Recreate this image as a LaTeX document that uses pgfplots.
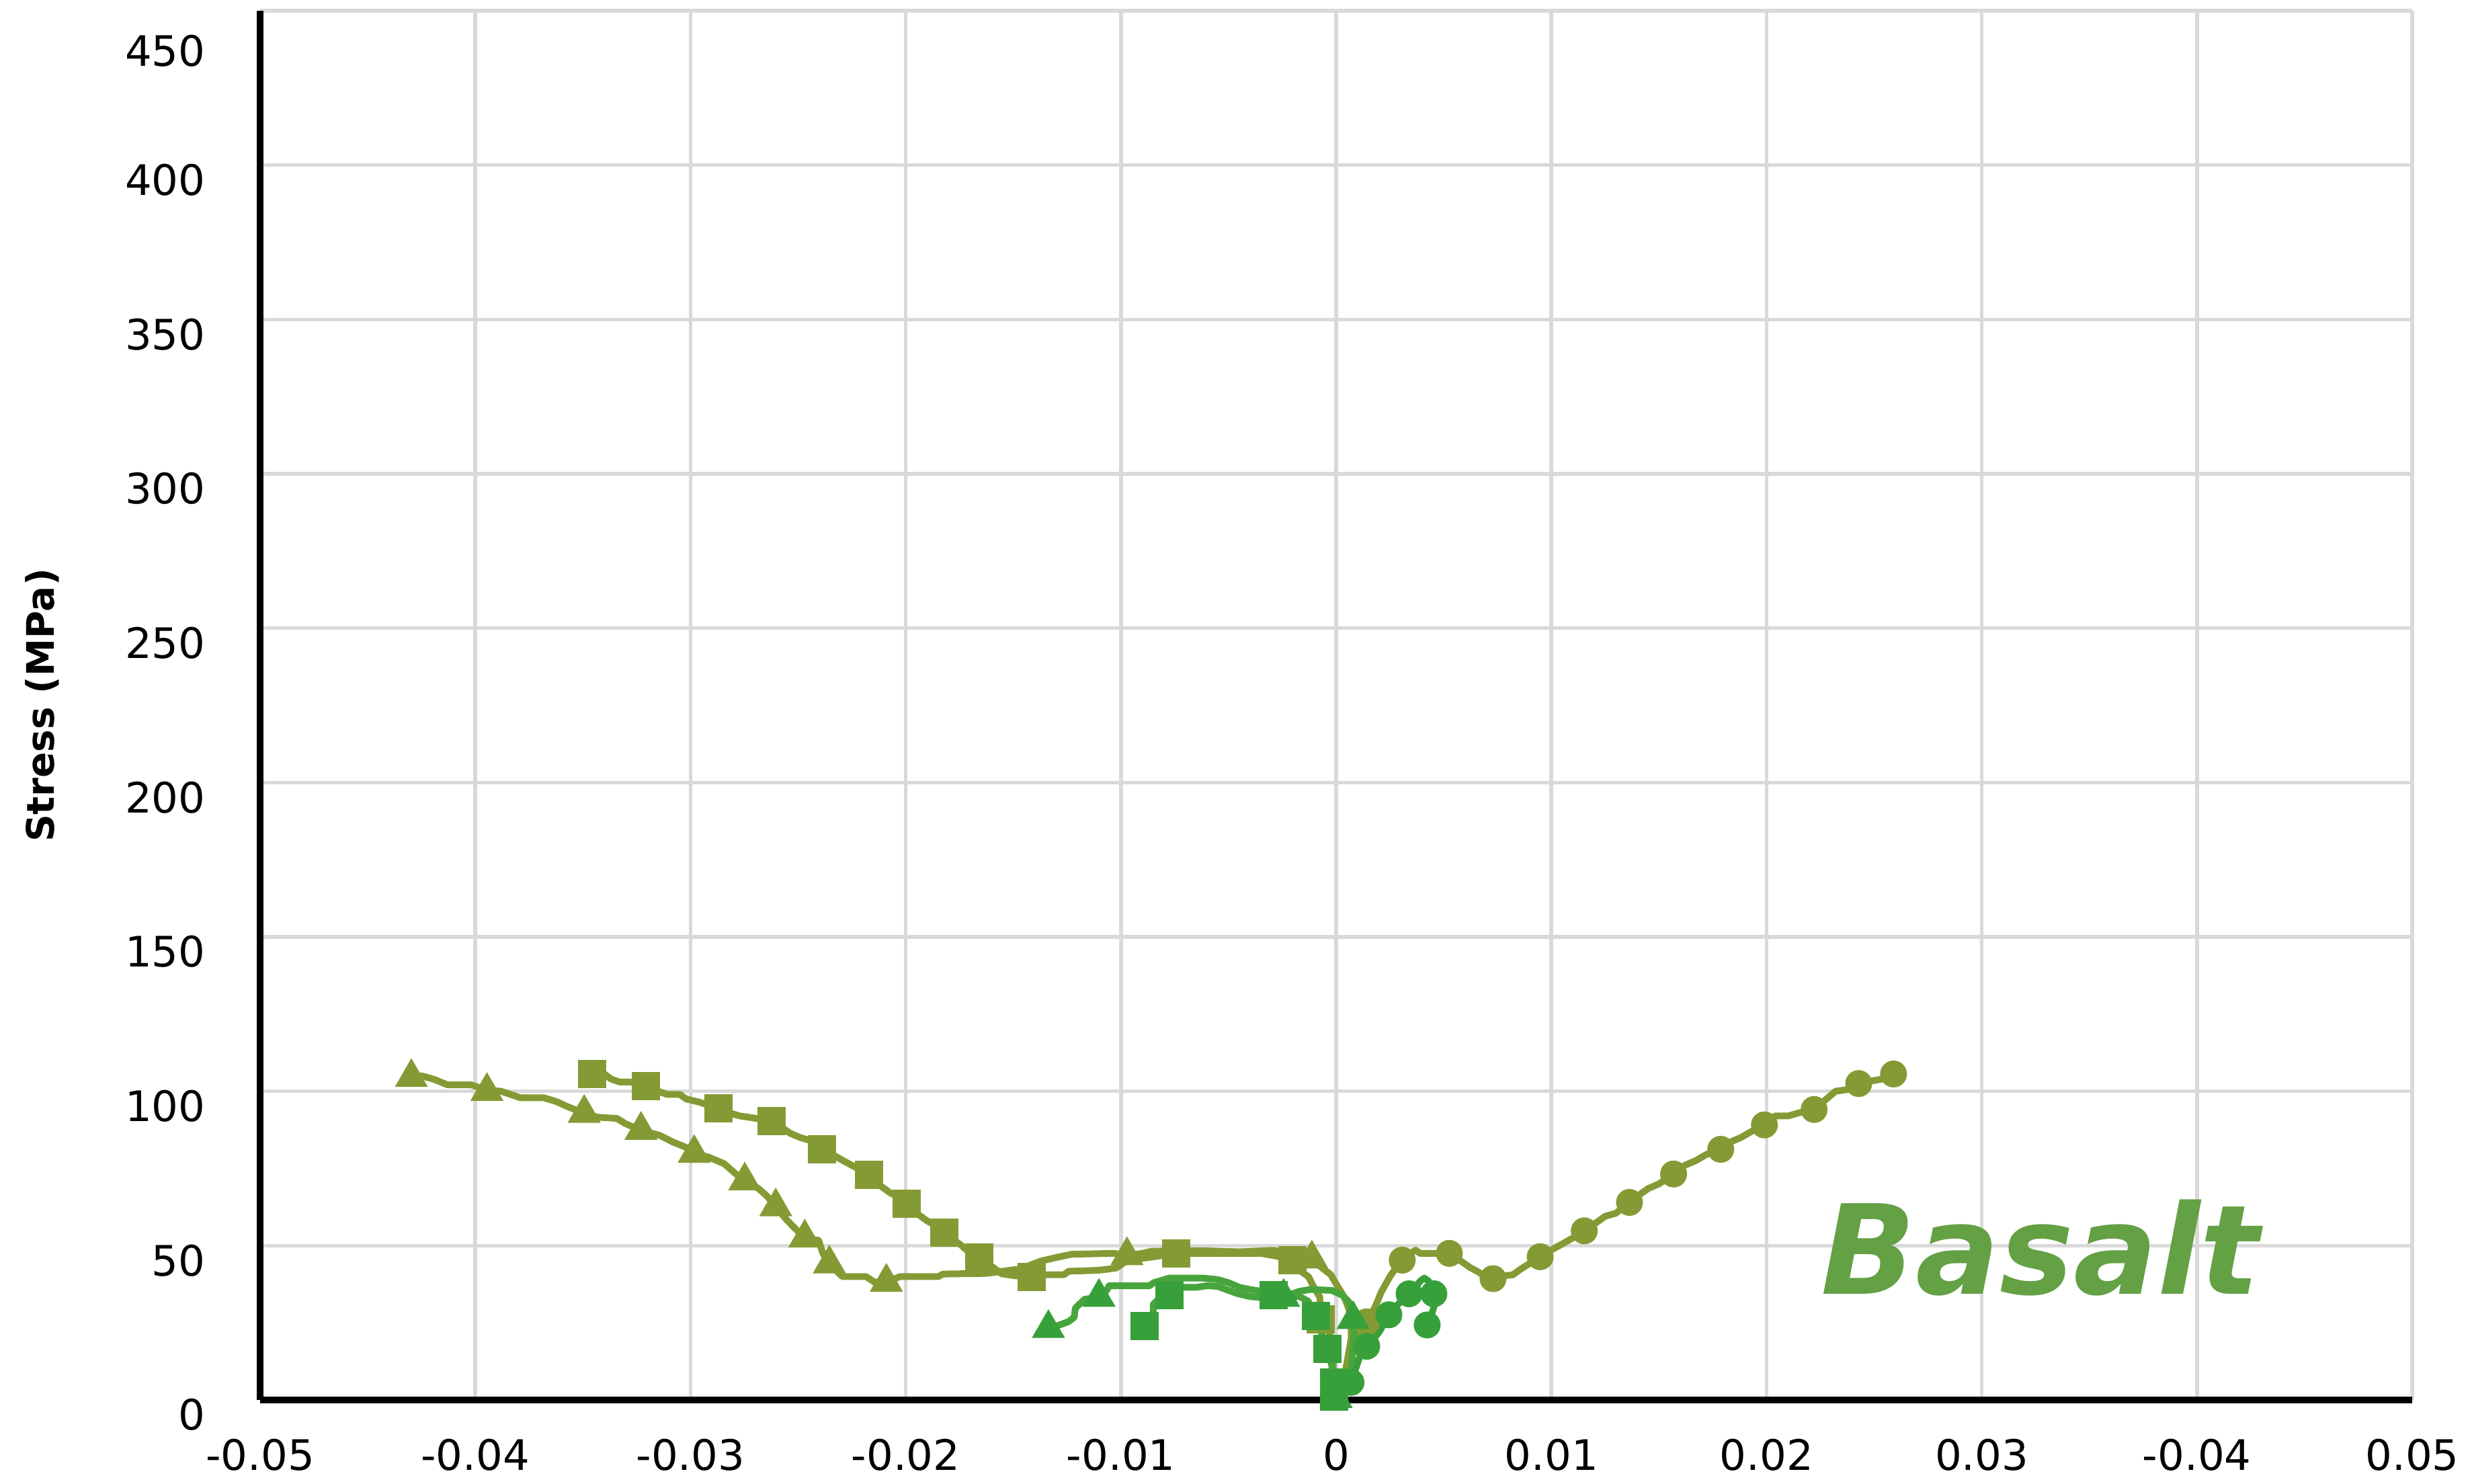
\documentclass[border=0pt]{standalone}
\usepackage{pgfplots}
\pgfplotsset{compat=1.18}
\usepackage{pgfplotstable}
\usepackage{fontspec}
\setmainfont{DejaVu Sans}
\definecolor{oliveC}{RGB}{132,155,53}
\definecolor{greenC}{RGB}{56,160,58}
\definecolor{greenL}{RGB}{72,164,60}
\definecolor{gridC}{RGB}{217,217,217}
\definecolor{basaltC}{RGB}{100,160,68}

% olive triangles
\pgfplotstableread{
x y
-0.04297 104.5
-0.04249 105.0
-0.04189 103.8
-0.04130 102.1
-0.04020 102.1
-0.03946 100.4
-0.03880 100.0
-0.03790 97.9
-0.03681 97.9
-0.03621 96.6
-0.03571 95.0
-0.03494 92.9
-0.03432 91.6
-0.03342 91.2
-0.03302 89.5
-0.03230 87.4
-0.03143 85.7
-0.03083 83.6
-0.03023 81.9
-0.02983 79.9
-0.02913 78.6
-0.02843 76.5
-0.02794 73.5
-0.02748 71.0
-0.02684 68.5
-0.02644 66.0
-0.02604 62.6
-0.02554 58.4
-0.02495 54.2
-0.02469 52.5
-0.02405 51.7
-0.02385 47.5
-0.02355 44.1
-0.02295 40.0
-0.02185 40.0
-0.02146 38.2
-0.02090 38.2
-0.02026 40.0
-0.01847 40.0
-0.01827 40.8
-0.01627 41.0
-0.01540 41.8
-0.01462 42.5
-0.01410 44.0
-0.01373 45.0
-0.01291 46.3
-0.01229 47.2
-0.01035 47.5
-0.00972 46.8
-0.00900 47.5
-0.00857 48.2
-0.00700 48.3
-0.00600 48.3
-0.00450 48.0
-0.00350 48.3
-0.00290 48.5
-0.00250 47.8
-0.00200 47.5
-0.00150 46.5
-0.00113 45.7
-0.00066 42.8
-0.00025 40.6
0.00006 36.9
0.00038 33.3
0.00058 29.7
0.00070 26.0
0.00070 20.0
0.00050 12.0
0.00030 5.0
0.00010 0.0
}\OTline
\pgfplotstableread{
x y
-0.04297 104.5
-0.03946 100.0
-0.03494 92.9
-0.03230 87.4
-0.02983 79.9
-0.02748 71.0
-0.02604 62.6
-0.02469 52.5
-0.02355 44.1
-0.02090 38.2
-0.00972 46.8
-0.00113 45.7
}\OTmark

% olive squares
\pgfplotstableread{
x y
-0.03456 105.6
-0.03400 105.6
-0.03370 104.0
-0.03330 103.0
-0.03280 103.0
-0.03208 101.7
-0.03150 100.0
-0.03110 99.0
-0.03050 99.0
-0.03020 97.5
-0.02960 96.5
-0.02869 94.4
-0.02820 93.0
-0.02770 92.0
-0.02720 91.5
-0.02624 90.3
-0.02580 88.5
-0.02540 86.5
-0.02490 85.0
-0.02440 84.0
-0.02389 81.1
-0.02340 79.5
-0.02290 77.5
-0.02250 76.0
-0.02210 74.5
-0.02169 72.9
-0.02120 69.5
-0.02070 67.0
-0.02030 65.5
-0.01996 63.6
-0.01950 60.5
-0.01900 58.0
-0.01860 56.5
-0.01820 54.2
-0.01780 52.0
-0.01740 50.0
-0.01700 47.5
-0.01657 46.1
-0.01597 43.1
-0.01555 40.9
-0.01500 40.3
-0.01415 39.8
-0.01358 40.6
-0.01264 40.6
-0.01243 41.7
-0.01108 42.0
-0.01024 42.7
-0.00983 44.6
-0.00921 45.7
-0.00847 46.4
-0.00743 47.5
-0.00650 47.5
-0.00500 47.5
-0.00350 47.5
-0.00270 46.5
-0.00202 45.3
-0.00170 42.0
-0.00128 39.9
-0.00107 37.0
-0.00076 33.3
-0.00071 26.1
-0.00035 22.4
-0.00017 18.8
-0.00014 15.0
-0.00014 9.4
-0.00010 3.0
0.00000 0.0
}\OSline
\pgfplotstableread{
x y
-0.03456 105.6
-0.03208 101.7
-0.02869 94.4
-0.02624 90.3
-0.02389 81.1
-0.02169 72.9
-0.01996 63.6
-0.01820 54.2
-0.01657 46.1
-0.01415 39.8
-0.00743 47.5
-0.00202 45.3
-0.00071 26.1
}\OSmark

% olive circles
\pgfplotstableread{
x y
0.00000 0.0
0.00030 6.0
0.00070 14.0
0.00100 20.0
0.00142 25.3
0.00180 30.0
0.00210 35.0
0.00250 40.0
0.00280 43.0
0.00307 45.3
0.00350 47.8
0.00370 48.5
0.00390 47.5
0.00460 47.5
0.00526 47.5
0.00590 44.5
0.00620 43.0
0.00660 41.5
0.00680 40.5
0.00729 39.3
0.00770 40.2
0.00820 40.5
0.00860 42.5
0.00948 46.4
0.01010 49.0
0.01050 50.5
0.01100 52.5
0.01153 54.8
0.01200 57.0
0.01250 59.5
0.01300 60.5
0.01363 64.0
0.01400 66.0
0.01450 68.5
0.01500 70.0
0.01568 73.2
0.01620 76.0
0.01670 77.5
0.01720 79.5
0.01787 81.2
0.01830 83.5
0.01880 85.0
0.01930 87.0
0.01990 89.1
0.02040 92.0
0.02100 92.0
0.02150 93.0
0.02221 94.1
0.02270 97.0
0.02320 100.0
0.02370 100.5
0.02428 102.5
0.02500 103.5
0.02540 104.0
0.02590 105.6
}\OCline
\pgfplotstableread{
x y
0.00142 25.3
0.00307 45.3
0.00526 47.5
0.00729 39.3
0.00948 46.4
0.01153 54.8
0.01363 64.0
0.01568 73.2
0.01787 81.2
0.01990 89.1
0.02221 94.1
0.02428 102.5
0.02590 105.6
}\OCmark

% green squares
\pgfplotstableread{
x y
-0.00889 23.9
-0.00860 25.0
-0.00850 27.0
-0.00850 31.0
-0.00820 33.0
-0.00780 35.0
-0.00740 36.5
-0.00650 36.5
-0.00600 37.0
-0.00550 36.8
-0.00500 35.5
-0.00460 34.5
-0.00400 33.5
-0.00350 33.2
-0.00291 33.5
-0.00230 33.8
-0.00170 33.5
-0.00130 32.0
-0.00095 27.3
-0.00070 22.0
-0.00040 16.6
-0.00020 11.0
-0.00010 5.7
-0.00010 1.0
}\GSline
\pgfplotstableread{
x y
-0.00889 23.9
-0.00775 34.0
-0.00291 34.0
-0.00095 27.3
-0.00040 16.6
-0.00010 5.7
-0.00010 1.0
}\GSmark

% green triangles
\pgfplotstableread{
x y
-0.01337 23.2
-0.01285 24.3
-0.01243 25.4
-0.01217 26.8
-0.01212 29.7
-0.01170 32.6
-0.01102 33.3
-0.01066 35.5
-0.01055 37.0
-0.00868 37.0
-0.00847 38.0
-0.00775 39.5
-0.00620 39.5
-0.00550 39.0
-0.00500 38.0
-0.00450 36.5
-0.00400 35.8
-0.00330 35.0
-0.00244 33.5
-0.00200 34.5
-0.00171 35.2
-0.00120 35.8
-0.00020 35.5
0.00027 34.0
0.00058 31.9
0.00079 28.3
0.00084 22.4
0.00079 17.6
0.00069 7.9
0.00038 1.4
0.00000 0.5
}\GTline
\pgfplotstableread{
x y
-0.01337 23.2
-0.01102 33.3
-0.00244 33.3
0.00079 26.1
0.00000 0.5
}\GTmark

% green circles
\pgfplotstableread{
x y
0.00000 0.0
0.00030 3.0
0.00069 5.7
0.00090 10.0
0.00110 14.0
0.00142 17.4
0.00170 19.5
0.00200 22.0
0.00245 27.6
0.00280 30.5
0.00310 32.5
0.00339 34.4
0.00370 36.5
0.00390 38.5
0.00410 39.5
0.00430 38.5
0.00440 36.0
0.00454 34.4
0.00454 30.0
0.00440 27.0
0.00423 24.3
}\GCline
\pgfplotstableread{
x y
0.00069 5.7
0.00142 17.4
0.00245 27.6
0.00339 34.4
0.00454 34.4
0.00423 24.3
}\GCmark

\pgfplotsset{
  ln/.style={line width=2pt, line join=round, line cap=round, no marks},
  mk/.style={only marks, draw=none, mark options={solid, draw=none}},
}

\begin{document}
\begin{tikzpicture}
\begin{axis}[
  scale only axis, width=640.4pt, height=413.4pt,
  xmin=-0.05, xmax=0.05, ymin=0, ymax=450,
  xtick={-0.05,-0.04,-0.03,-0.02,-0.01,0,0.01,0.02,0.03,0.04,0.05},
  xticklabels={-0.05,-0.04,-0.03,-0.02,-0.01,0,0.01,0.02,0.03,-0.04,0.05},
  ytick={0,50,100,150,200,250,300,350,400,450},
  yticklabels={0,50,100,150,200,250,300,350,400,{\raisebox{-7.5pt}[\height][\depth]{450}}},
  scaled x ticks=false,
  axis x line*=bottom, axis y line*=left,
  axis line style={line width=2.1pt, black, -},
  major tick length=0pt,
  grid=major, major grid style={draw=gridC, line width=1.1pt},
  tick label style={font=\fontsize{12.5}{15}\selectfont},
  xticklabel style={yshift=-8pt},
  yticklabel style={xshift=-12.8pt, yshift=-4.4pt},
  ylabel={Stress (MPa)},
  ylabel style={font=\fontsize{11.3}{13}\selectfont\bfseries, at={([xshift=-64.8pt]axis description cs:0,0.5)}, anchor=center},
  clip=false,
]
\addplot[oliveC, ln] table[x=x,y=y] {\OTline};
\addplot[oliveC, fill=oliveC, mk, mark=triangle*, mark size=5.3pt] table[x=x,y=y] {\OTmark};
\addplot[oliveC, ln] table[x=x,y=y] {\OSline};
\addplot[oliveC, fill=oliveC, mk, mark=square*, mark size=4pt] table[x=x,y=y] {\OSmark};
\addplot[oliveC, ln] table[x=x,y=y] {\OCline};
\addplot[oliveC, fill=oliveC, mk, mark=*, mark size=3.8pt] table[x=x,y=y] {\OCmark};
\addplot[greenL, ln] table[x=x,y=y] {\GSline};
\addplot[greenC, fill=greenC, mk, mark=square*, mark size=4pt] table[x=x,y=y] {\GSmark};
\addplot[greenL, ln] table[x=x,y=y] {\GTline};
\addplot[greenC, fill=greenC, mk, mark=triangle*, mark size=5.3pt] table[x=x,y=y] {\GTmark};
\addplot[greenC, ln] table[x=x,y=y] {\GCline};
\addplot[greenC, fill=greenC, mk, mark=*, mark size=3.8pt] table[x=x,y=y] {\GCmark};
\node[anchor=base west, inner sep=0pt, text=basaltC, font=\fontsize{37}{40}\selectfont\bfseries\itshape] at (axis cs:0.0225,34.2) {Basalt};
\end{axis}
\pgfresetboundingbox
\path[use as bounding box] ([xshift=-77.4pt,yshift=-24.8pt]current axis.south west) rectangle ([xshift=17.8pt,yshift=3.2pt]current axis.north east);
\end{tikzpicture}
\end{document}
